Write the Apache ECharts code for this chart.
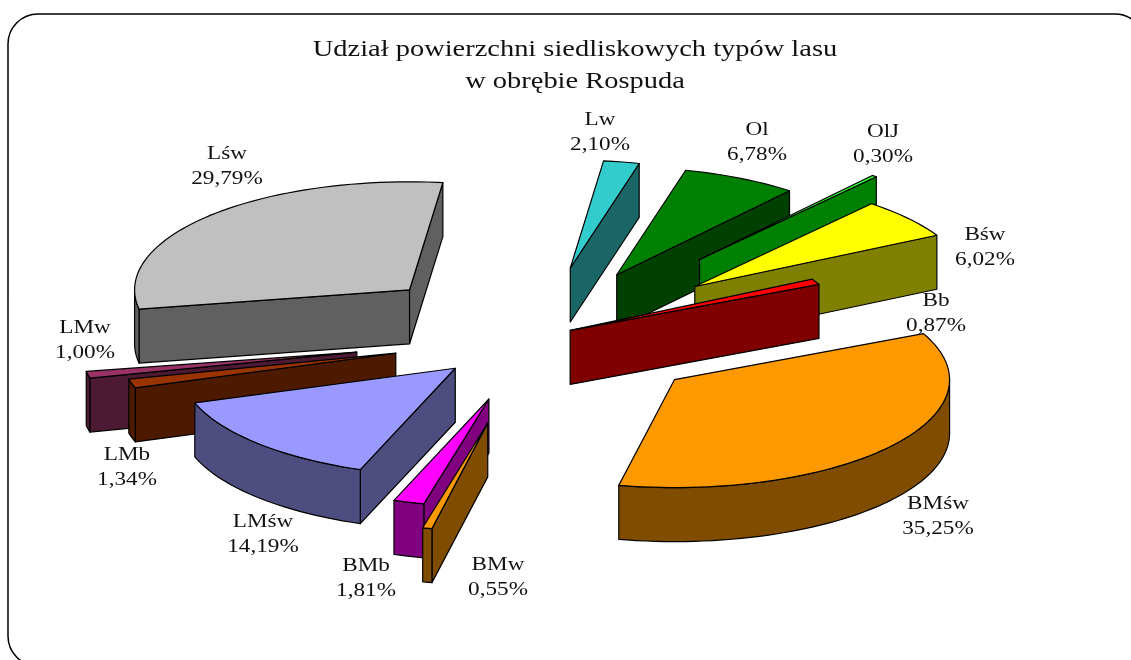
<!DOCTYPE html>
<html>
<head>
<meta charset="utf-8">
<title>Udział powierzchni siedliskowych typów lasu</title>
<style>
html, body { margin: 0; padding: 0; background: #fff; overflow: hidden; }
#main { width: 1131px; height: 660px; }
</style>
<script src="https://cdn.jsdelivr.net/npm/echarts@6/dist/echarts.min.js"></script>
</head>
<body>
<div id="main"></div>
<script>
// dane
var categories = ['Bśw', 'Bb', 'BMśw', 'BMw', 'BMb', 'LMśw', 'LMb', 'LMw', 'Lśw', 'Lw', 'Ol', 'OlJ'];
var shares = [6.02, 0.87, 35.25, 0.55, 1.81, 14.19, 1.34, 1.00, 29.79, 2.10, 6.78, 0.30];
// wysunięcie wycinka względem środka (ułamek promienia)
var explosion = [0.74, 0.135, 0.637, 0.815, 0.60, 0.415, 0.535, 0.67, 0.637, 0.65, 0.645, 0.93];

var topColors = ['#ffff00', '#ff0000', '#ff9900', '#ff9900', '#ff00ff', '#9999ff', '#993300', '#993366', '#c0c0c0', '#33cccc', '#008000', '#33ff33'];
var sideColors = ['#808000', '#800000', '#804d00', '#804d00', '#800080', '#4d4d80', '#4d1a00', '#4d1a33', '#606060', '#1a6666', '#004000', '#008000'];
// środki etykiet
var labelAt = [[985, 248], [936, 314], [938, 517], [498, 578], [366, 579], [263, 535], [127, 468], [85, 341], [227, 167], [600, 133], [757, 143], [883, 145]];

var CX = 537, CY = 337, RX = 275, RY = 108, DEPTH = 54, START = 40;

function point(deg, ox, oy, down) {
    var r = deg * Math.PI / 180;
    return [ox + RX * Math.sin(r), oy - RY * Math.cos(r) + (down || 0)];
}

// kąty wycinków liczone z udziałów
var slices = [];
var sum = shares.reduce(function (a, b) { return a + b; }, 0);
var acc = START;
shares.forEach(function (v, i) {
    var a1 = acc, a2 = acc + v / sum * 360;
    var mid = (a1 + a2) / 2 * Math.PI / 180;
    slices.push({ index: i, a1: a1, a2: a2, mid: mid });
    acc = a2;
});
// rysowanie od tyłu do przodu
var order = slices.slice().sort(function (a, b) { return Math.cos(b.mid) - Math.cos(a.mid); });

function poly(points, fill, z2) {
    return {
        type: 'polygon',
        z2: z2,
        shape: { points: points },
        style: { fill: fill, stroke: '#000', lineWidth: 1.2, lineJoin: 'round' }
    };
}

function wall(ax, ay, p, fill, z2) {
    return poly([[ax, ay], p, [p[0], p[1] + DEPTH], [ax, ay + DEPTH]], fill, z2);
}

function renderSlice(params, api) {
    var s = slices[api.value(0)];
    var rank = params.dataIndex * 10;
    var i = s.index;
    var e = explosion[i];
    var ax = CX + e * RX * Math.sin(s.mid);
    var ay = CY - e * RY * Math.cos(s.mid);
    var children = [];
    var p1 = point(s.a1, ax, ay);
    var p2 = point(s.a2, ax, ay);

    if (Math.sin(s.a1 * Math.PI / 180) < 0) {
        children.push(wall(ax, ay, p1, sideColors[i], rank + 1));
    }
    if (Math.sin(s.a2 * Math.PI / 180) > 0) {
        children.push(wall(ax, ay, p2, sideColors[i], rank + 1));
    }

    // obrzeże widoczne tylko z przodu
    var from = Math.max(s.a1, 90), to = Math.min(s.a2, 270);
    if (to > from) {
        var upper = [], lower = [];
        for (var d = from; d < to; d += 2) {
            upper.push(point(d, ax, ay));
            lower.unshift(point(d, ax, ay, DEPTH));
        }
        upper.push(point(to, ax, ay));
        lower.unshift(point(to, ax, ay, DEPTH));
        children.push(poly(upper.concat(lower), sideColors[i], rank + 2));
    }

    var top = [[ax, ay]];
    for (var t = s.a1; t < s.a2; t += 2) {
        top.push(point(t, ax, ay));
    }
    top.push(p2);
    children.push(poly(top, topColors[i], rank + 3));

    children.push({
        type: 'text',
        z2: 1000,
        x: labelAt[i][0],
        y: labelAt[i][1],
        scaleX: 1.22,
        style: {
            text: categories[i] + '\n' + shares[i].toFixed(2).replace('.', ',') + '%',
            fontFamily: 'Liberation Serif',
            fontSize: 19,
            lineHeight: 25,
            fill: '#111',
            align: 'center',
            verticalAlign: 'middle'
        }
    });
    return { type: 'group', children: children };
}

var myChart = echarts.init(document.getElementById('main'));
myChart.setOption({
    animation: false,
    backgroundColor: '#fff',
    graphic: [{
        type: 'rect',
        silent: true,
        shape: { x: 8, y: 14, width: 1137, height: 652, r: 30 },
        style: { fill: 'transparent', stroke: '#000', lineWidth: 1.5 }
    }, {
        type: 'text',
        silent: true,
        x: 575,
        y: 66,
        scaleX: 1.21,
        style: {
            text: 'Udział powierzchni siedliskowych typów lasu\nw obrębie Rospuda',
            fontFamily: 'Liberation Serif',
            fontSize: 23.5,
            lineHeight: 32,
            fill: '#111',
            align: 'center',
            verticalAlign: 'middle'
        }
    }],
    series: [{
        type: 'custom',
        coordinateSystem: 'none',
        silent: true,
        renderItem: renderSlice,
        data: order.map(function (s) { return [s.index]; })
    }]
});
</script>
</body>
</html>
